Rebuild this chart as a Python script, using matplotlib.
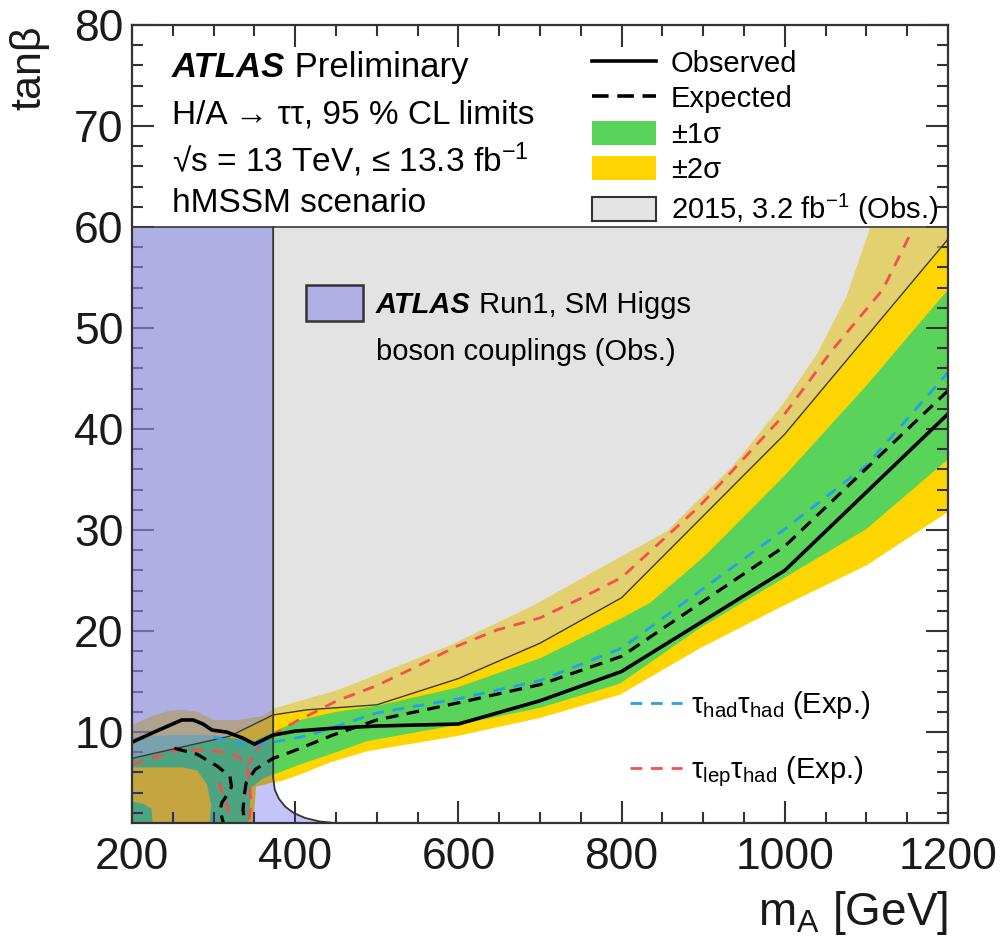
import numpy as np
import matplotlib
matplotlib.use('Agg')
from matplotlib import pyplot as plt
from matplotlib.lines import Line2D
from matplotlib.patches import Patch, Rectangle
from matplotlib.ticker import MultipleLocator

plt.rcParams['font.family'] = ['Liberation Sans', 'DejaVu Sans']
plt.rcParams['mathtext.fontset'] = 'custom'
plt.rcParams['mathtext.rm'] = 'Liberation Sans'
plt.rcParams['mathtext.it'] = 'Liberation Sans:italic'
plt.rcParams['mathtext.bf'] = 'Liberation Sans:bold'

#----------------------------
# values (m_A in GeV, tan beta)
#----------------------------

# +-2 sigma band
yel_up_x = [200, 225, 245, 265, 280, 300, 330, 360, 373, 406, 450, 488, 590, 691, 773, 856, 937, 998, 1040, 1075, 1105, 1160, 1200]
yel_up_y = [10.7, 11.6, 12.1, 12.2, 12.0, 11.2, 11.2, 11.6, 12.3, 13.1, 14.1, 15.3, 18.6, 22.5, 26.2, 29.9, 36.4, 42.5, 47.5, 53.0, 60.0, 67.0, 72.0]
yel_lo_x = [200, 348, 352, 372, 385, 406, 443, 488, 598, 700, 798, 896, 998, 1100, 1200]
yel_lo_y = [0.0, 0.0, 4.6, 5.0, 5.2, 5.8, 7.0, 8.1, 9.6, 11.4, 13.7, 18.3, 22.5, 26.5, 31.8]

# +-1 sigma band
grn_up_x = [200, 250, 300, 330, 350, 373, 406, 450, 500, 598, 700, 798, 835, 900, 1000, 1100, 1200]
grn_up_y = [9.5, 9.7, 9.7, 9.3, 9.1, 10.0, 11.2, 12.0, 12.6, 14.4, 17.3, 21.2, 22.8, 27.3, 35.4, 44.3, 53.8]
grn_lo_x = [200, 342, 346, 360, 380, 406, 443, 488, 598, 700, 798, 896, 998, 1100, 1200]
grn_lo_y = [0.0, 0.0, 4.5, 5.4, 6.0, 6.8, 7.8, 9.1, 10.7, 12.4, 14.8, 20.3, 25.2, 30.1, 37.0]

# hole in the 1 sigma band at low mass (yellow shows through)
hole_x = [200, 262, 280, 292, 297, 294, 226, 224, 214, 200]
hole_y = [6.5, 6.5, 6.2, 4.8, 2.8, 0.0, 0.0, 2.4, 2.9, 3.1]

# 2015, 3.2 fb-1 observed
obs15_x = [200, 320, 373, 414, 500, 600, 700, 800, 1000, 1200]
obs15_y = [7.4, 9.6, 11.7, 12.2, 12.7, 15.3, 18.8, 23.3, 39.5, 58.8]

# ATLAS Run1 SM Higgs couplings boundary
run1_x = [373, 373, 375, 380, 388, 398, 412, 430, 455]
run1_y = [60.0, 5.5, 4.3, 3.4, 2.6, 2.0, 1.5, 1.15, 0.95]

# observed limit
obs_x = [200, 230, 261, 275, 287, 298, 316, 336, 350, 373, 400, 450, 500, 600, 700, 800, 1000, 1200]
obs_y = [9.0, 10.1, 11.2, 11.2, 10.8, 10.2, 10.0, 9.4, 8.8, 9.7, 10.1, 10.4, 10.6, 10.8, 13.1, 16.0, 26.0, 41.5]

# expected limit (two branches)
exp_x = [1200, 1000, 800, 700, 600, 500, 446, 397, 373, 351, 340, 338, 336, 338]
exp_y = [43.8, 28.4, 17.5, 14.7, 12.9, 11.2, 9.7, 8.1, 7.4, 6.3, 5.0, 4.0, 2.3, 1.0]
exp2_x = [252, 280, 305, 320, 322, 316, 310, 308, 312]
exp2_y = [8.4, 7.8, 6.6, 5.6, 4.6, 3.7, 3.0, 2.2, 1.0]

# tau_had tau_had expected
hh_x = [300, 316, 345, 372, 400, 418, 455, 500, 600, 700, 800, 1000, 1100, 1200]
hh_y = [9.5, 9.2, 8.6, 9.0, 9.4, 9.7, 10.7, 11.9, 13.3, 15.1, 18.3, 30.1, 36.4, 45.6]

# tau_lep tau_had expected (three pieces)
lh_x = [1152, 1120, 1059, 998, 896, 800, 749, 700, 647, 598, 549, 500, 451, 427, 402, 378, 360, 350, 343]
lh_y = [59.0, 53.8, 47.9, 41.3, 32.4, 25.3, 23.2, 21.3, 20.1, 18.5, 16.5, 14.6, 13.1, 12.1, 11.1, 10.0, 9.0, 8.0, 6.8]
lh2_x = [200, 231, 256, 283, 305, 330, 340, 344, 346, 343]
lh2_y = [6.8, 7.6, 8.2, 8.2, 8.1, 7.6, 6.8, 5.0, 3.0, 1.0]
lh3_x = [306, 311, 318, 321]
lh3_y = [5.0, 4.0, 2.3, 1.0]

green = '#5ad35a'
yellow = '#ffd500'
red = '#f2504f'
blue = '#2a9ee8'

#----------------------------
# figure
#----------------------------
fig = plt.figure(figsize=(10.02, 9.46), dpi=100)
ax = fig.add_axes([132/1002, 1-823/946, 816/1002, 798/946])
ax.set_xlim(200, 1200)
ax.set_ylim(1, 80)

# everything shaded stops at tan(beta) = 60
clip = Rectangle((200, 1), 1000, 59, transform=ax.transData, visible=False)

# bands
yb = ax.fill(np.concatenate([yel_up_x, yel_lo_x[::-1]]),
             np.concatenate([yel_up_y, yel_lo_y[::-1]]), color=yellow, lw=0, zorder=1)
gb = ax.fill(np.concatenate([grn_up_x, grn_lo_x[::-1]]),
             np.concatenate([grn_up_y, grn_lo_y[::-1]]), color=green, lw=0, zorder=1.1)
hb = ax.fill(hole_x, hole_y, color=yellow, lw=0, zorder=1.2)

# 2015 excluded region (above its line, up to 60)
g15 = ax.fill(obs15_x + [1200, 200], obs15_y + [60, 60], color=(205/255, 205/255, 205/255),
              alpha=0.54, lw=0, zorder=2)
ax.plot([200, 1200], [60, 60], color='#3a3a3a', lw=1.2, zorder=3)
ax.plot(obs15_x, obs15_y, color='#3a3a3a', lw=1.0, zorder=3)

# Run1 couplings region
r1 = ax.fill([200, 200] + run1_x + [run1_x[-1]], [0, 60] + run1_y + [0],
             color=(43/255, 43/255, 232/255), alpha=0.28, lw=0, zorder=2.5)
ax.plot(run1_x, run1_y, color='#333333', lw=1.3, zorder=3)

for p in yb + gb + hb + g15 + r1:
    p.set_clip_path(clip)

# limits
for xs, ys in [(lh_x, lh_y), (lh2_x, lh2_y), (lh3_x, lh3_y)]:
    ax.plot(xs, ys, color=red, lw=2.0, ls=(0, (4.2, 3.2)), zorder=4)
ax.plot(hh_x, hh_y, color=blue, lw=2.0, ls=(0, (4.2, 3.2)), zorder=4)
ax.plot(exp_x, exp_y, color='black', lw=2.3, ls=(0, (4.0, 2.6)), zorder=5)
ax.plot(exp2_x, exp2_y, color='black', lw=2.3, ls=(0, (4.0, 2.6)), zorder=5)
ax.plot(obs_x, obs_y, color='black', lw=2.6, zorder=6)

# axes style
ax.set_xticks(np.arange(200, 1201, 200))
ax.set_yticks(np.arange(10, 81, 10))
ax.xaxis.set_minor_locator(MultipleLocator(50))
ax.yaxis.set_minor_locator(MultipleLocator(2))
ax.tick_params(which='both', direction='in', top=True, right=True, width=1.5,
               color='#333333', labelsize=32, labelcolor='#1a1a1a')
ax.tick_params(which='major', length=16)
ax.tick_params(which='minor', length=8)
ax.tick_params(axis='x', pad=10)
ax.tick_params(axis='y', pad=6)
for s in ax.spines.values():
    s.set_linewidth(1.6)
    s.set_color('#333333')
    s.set_zorder(10)

fig.text(29/1002, 1-25/946, 'tanβ', rotation=90, ha='center', va='top', fontsize=31, color='#1a1a1a')
fig.text(948/1002, 1-925/946, r'm$_{\mathrm{A}}$ [GeV]', ha='right', va='baseline', fontsize=33, color='#1a1a1a')

# upper left labels
t = ax.text(0.049, 0.935, 'ATLAS', fontsize=25, fontweight='bold', style='italic',
            transform=ax.transAxes, va='baseline')
ax.annotate(' Preliminary', xy=(1, 0), xycoords=t, va='bottom', fontsize=25)
ax.text(0.049, 0.877, 'H/A → ττ, 95 % CL limits', fontsize=24, transform=ax.transAxes, va='baseline')
ax.text(0.049, 0.816, r'√s = 13 TeV, ≤ 13.3 fb$^{-1}$', fontsize=24, transform=ax.transAxes, va='baseline')
ax.text(0.049, 0.766, 'hMSSM scenario', fontsize=24, transform=ax.transAxes, va='baseline')

# main legend
handles = [Line2D([], [], color='black', lw=2.6),
           Line2D([], [], color='black', lw=2.6, ls=(0, (4.6, 2.4))),
           Patch(facecolor=green, edgecolor='none'),
           Patch(facecolor=yellow, edgecolor='none'),
           Patch(facecolor='#e4e4e4', edgecolor='#333333', lw=1.5)]
labels = ['Observed', 'Expected', '±1σ', '±2σ', r'2015, 3.2 fb$^{-1}$ (Obs.)']
leg1 = ax.legend(handles, labels, loc='upper left', bbox_to_anchor=(0.564, 0.969), frameon=False,
                 fontsize=21, handlelength=2.2, handleheight=0.9, handletextpad=0.5,
                 labelspacing=0.25, borderpad=0, borderaxespad=0)
ax.add_artist(leg1)

# Run1 legend entry
ax.add_patch(Rectangle((0.213, 0.629), 0.070, 0.045, transform=ax.transAxes,
                       facecolor='#b0b0e6', edgecolor='#333333', lw=1.8, zorder=7))
t2 = ax.text(0.299, 0.639, 'ATLAS', fontsize=21, fontweight='bold', style='italic',
             transform=ax.transAxes, va='baseline', zorder=7)
ax.annotate(' Run1, SM Higgs', xy=(1, 0), xycoords=t2, va='bottom', fontsize=21, zorder=7)
ax.text(0.299, 0.580, 'boson couplings (Obs.)', fontsize=21, transform=ax.transAxes,
        va='baseline', zorder=7)

# tau legend
th = [Line2D([], [], color=blue, lw=2.0, ls=(0, (4.2, 3.2))),
      Line2D([], [], color=red, lw=2.0, ls=(0, (4.2, 3.2)))]
tl = [r'τ$_{\mathrm{had}}$τ$_{\mathrm{had}}$ (Exp.)', r'τ$_{\mathrm{lep}}$τ$_{\mathrm{had}}$ (Exp.)']
leg2 = ax.legend(th, tl, loc='upper left', bbox_to_anchor=(0.610, 0.168), frameon=False,
                 fontsize=21, handlelength=1.8, handletextpad=0.3, labelspacing=1.15,
                 borderpad=0, borderaxespad=0)

fig.savefig('out.png', dpi=100)
